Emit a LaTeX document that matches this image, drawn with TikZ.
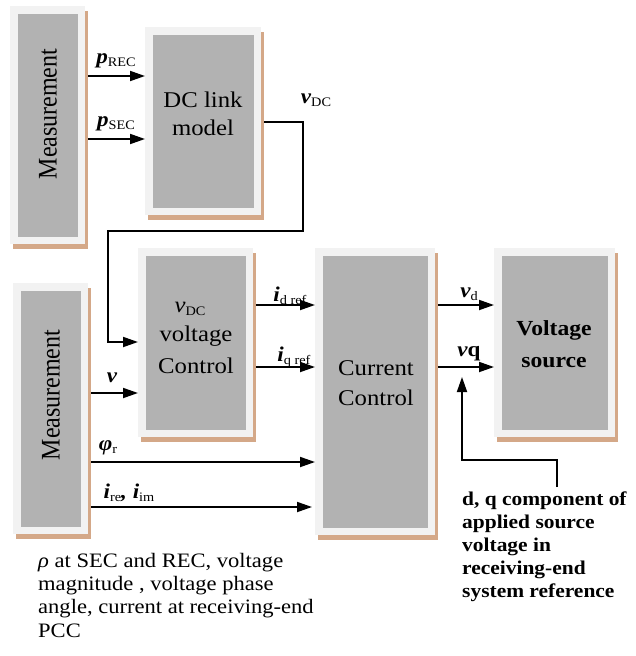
\documentclass[tikz,border=0pt]{standalone}
\usepackage{fontspec}
\setmainfont{Liberation Serif}[FakeStretch=1.1]
\newfontfamily\plainserif{Liberation Serif}
\usetikzlibrary{arrows.meta,shadows}
\definecolor{framegray}{RGB}{242,242,242}
\definecolor{innergray}{RGB}{178,178,178}
\definecolor{shadowtan}{RGB}{212,168,136}
\newcommand\sbs[1]{\raisebox{-3pt}{\fontsize{13}{13}\selectfont\upshape\mdseries #1}}
\begin{document}
\begin{tikzpicture}[x=1pt,y=-1pt,
  block/.style={rectangle, fill=framegray, inner sep=0pt, outer sep=0pt,
    drop shadow={shadow xshift=3pt, shadow yshift=-5pt, fill=shadowtan, opacity=1},
    path picture={\fill[innergray] ([shift={(7.5pt,-7.5pt)}]path picture bounding box.north west) rectangle ([shift={(-7.5pt,7.5pt)}]path picture bounding box.south east);}},
  conn/.style={line width=1.8pt, -{Triangle[length=15pt,width=10pt]}},
  blocktext/.style={font=\fontsize{22.5}{27}\selectfont, anchor=base, inner sep=0pt},
  sig/.style={font=\fontsize{21}{21}\selectfont\bfseries\itshape, inner sep=0pt},
  note/.style={font=\fontsize{20.5}{23}\selectfont, anchor=base west, inner sep=0pt},
  boldnote/.style={note, font=\fontsize{19.5}{23}\selectfont\bfseries}]
\fill[white] (0,0) rectangle (635,656);
\useasboundingbox (0,0) rectangle (635,656);

% blocks
\node[block, minimum width=75pt, minimum height=238pt] (meas1) at (47.5,125) {};
\node[block, minimum width=116pt, minimum height=188pt] (dc) at (203,121) {};
\node[block, minimum width=115pt, minimum height=189pt] (vdc) at (195.5,342.5) {};
\node[block, minimum width=75pt, minimum height=251pt] (meas2) at (50.5,408.5) {};
\node[block, minimum width=120pt, minimum height=287pt] (cc) at (375,391.5) {};
\node[block, minimum width=121pt, minimum height=189pt] (vs) at (554.5,342.5) {};

% block texts
\node[rotate=90, inner sep=0pt] (meas1t) at (48,114) {\scalebox{1}[1.12]{\plainserif\fontsize{24}{24}\selectfont Measurement}};
\node[rotate=90, inner sep=0pt] (meas2t) at (51,395) {\scalebox{1}[1.12]{\plainserif\fontsize{24}{24}\selectfont Measurement}};
\node[blocktext] (dct1) at (203,107) {DC link};
\node[blocktext] (dct2) at (203,135) {model};
\node[blocktext] (vdct1) at (190,312) {\itshape v\sbs{DC}};
\node[blocktext] (vdct2) at (196,341) {voltage};
\node[blocktext] (vdct3) at (196,373) {Control};
\node[blocktext] (cct1) at (376,375) {Current};
\node[blocktext] (cct2) at (376,405) {Control};
\node[blocktext, font=\fontsize{21.5}{26}\selectfont\bfseries] (vst1) at (554,335) {Voltage};
\node[blocktext, font=\fontsize{21.5}{26}\selectfont\bfseries] (vst2) at (554,367) {source};

% signal labels
\node[sig] (lpr) at (116,61) {p\sbs{REC}};
\node[sig] (lps) at (116,124) {p\sbs{SEC}};
\node[sig] (lvdc) at (316,100) {v\sbs{DC}};
\node[sig] (lid) at (290,296) {i\sbs{d ref}};
\node[sig] (liq) at (294,357) {i\sbs{q ref}};
\node[sig] (lv) at (112,378) {v};
\node[sig] (lphi) at (108,448) {φ\sbs{r}};
\node[sig] (li) at (129,493) {i\sbs{re}, i\sbs{im}};
\node[sig] (lvd) at (469,294) {v\sbs{d}};
\node[sig] (lvq) at (469,354) {v{\upshape q}};

% connectors
\draw[conn, shorten <=3pt] (meas1.east |- 0,76) -- (dc.west |- 0,76);
\draw[conn, shorten <=3pt] (meas1.east |- 0,139) -- (dc.west |- 0,139);
\draw[conn, shorten <=3pt] (dc.east |- 0,122) -| (303,231) -| (108,342) -- (vdc.west |- 0,342);
\draw[conn, shorten <=3pt] (vdc.east |- 0,305) -- (cc.west |- 0,305);
\draw[conn, shorten <=3pt] (vdc.east |- 0,367) -- (cc.west |- 0,367);
\draw[conn, shorten <=3pt] (meas2.east |- 0,393) -- (vdc.west |- 0,393);
\draw[conn, shorten <=3pt] (meas2.east |- 0,462) -- (cc.west |- 0,462);
\draw[conn, shorten <=3pt, shorten >=3pt] (meas2.east |- 0,507) -- (cc.west |- 0,507);
\draw[conn, shorten <=3pt] (cc.east |- 0,305) -- (vs.west |- 0,305);
\draw[conn, shorten <=3pt] (cc.east |- 0,367) -- (vs.west |- 0,367);
\coordinate (dqfree) at (557,487);
\coordinate (dqtip) at (462,377);
\draw[conn] (dqfree) |- (dqtip |- 0,460) -- (dqtip);

% notes
\node[note] (nl1) at (38,567) {\textit{ρ} at SEC and REC, voltage};
\node[note] (nl2) at (38,590) {magnitude , voltage phase};
\node[note] (nl3) at (38,613) {angle, current at receiving-end};
\node[note] (nl4) at (38,637) {PCC};
\node[boldnote] (nr1) at (462,505) {d, q component of};
\node[boldnote] (nr2) at (462,528) {applied source};
\node[boldnote] (nr3) at (462,551) {voltage in};
\node[boldnote] (nr4) at (462,574) {receiving-end};
\node[boldnote] (nr5) at (462,597) {system reference};
\end{tikzpicture}
\end{document}
